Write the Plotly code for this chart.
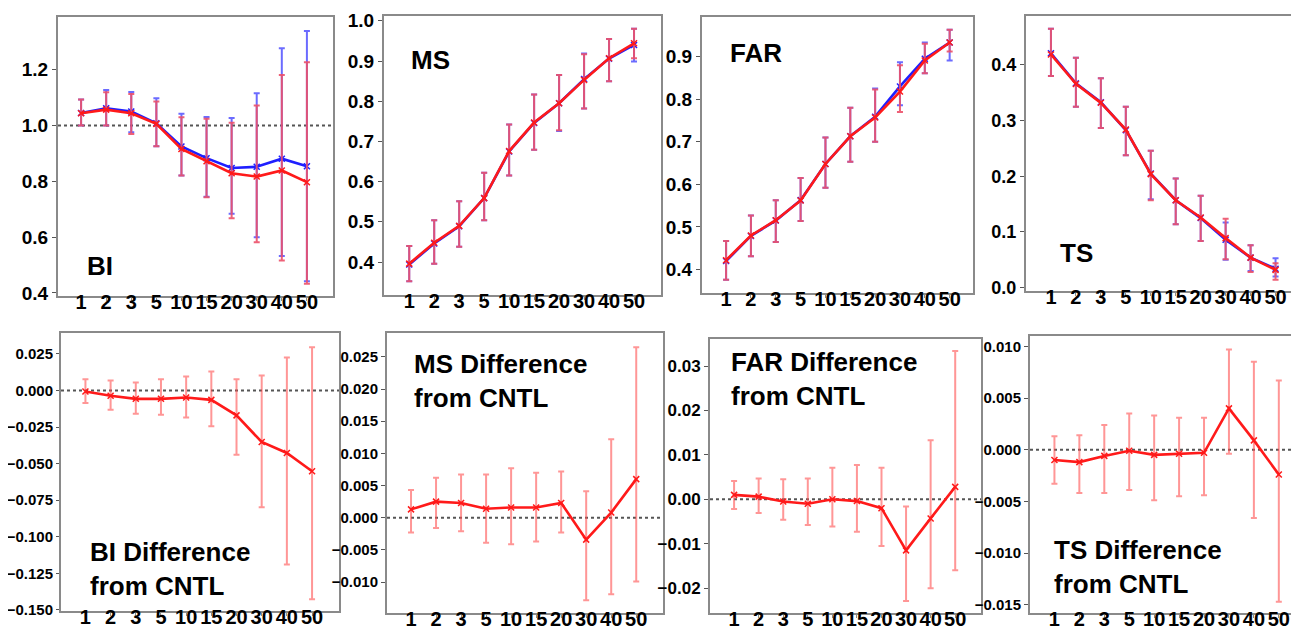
import plotly.graph_objects as go
import numpy as np

W, H = 1299, 632

categories = ["1", "2", "3", "5", "10", "15", "20", "30", "40", "50"]

# ---- BI ----
bi_blue = [1.045, 1.062, 1.050, 1.008, 0.925, 0.883, 0.848, 0.852, 0.881, 0.854]
bi_blue_hi = [1.093, 1.127, 1.120, 1.098, 1.042, 1.031, 1.027, 1.116, 1.277, 1.339]
bi_blue_lo = [1.000, 1.000, 0.976, 0.926, 0.821, 0.745, 0.684, 0.600, 0.532, 0.442]
bi_red = [1.044, 1.057, 1.044, 1.006, 0.916, 0.872, 0.829, 0.817, 0.839, 0.797]
bi_red_hi = [1.093, 1.119, 1.113, 1.086, 1.030, 1.024, 1.010, 1.072, 1.181, 1.227]
bi_red_lo = [1.000, 1.000, 0.970, 0.926, 0.821, 0.743, 0.668, 0.582, 0.516, 0.433]

# ---- MS ----
ms_blue = [0.394, 0.446, 0.489, 0.559, 0.675, 0.746, 0.795, 0.855, 0.906, 0.940]
ms_blue_hi = [0.440, 0.504, 0.551, 0.622, 0.742, 0.817, 0.865, 0.919, 0.955, 0.980]
ms_blue_lo = [0.352, 0.396, 0.438, 0.504, 0.615, 0.679, 0.726, 0.782, 0.850, 0.899]
ms_red = [0.396, 0.448, 0.490, 0.559, 0.676, 0.747, 0.795, 0.853, 0.907, 0.944]
ms_red_hi = [0.440, 0.504, 0.551, 0.622, 0.742, 0.817, 0.865, 0.917, 0.955, 0.980]
ms_red_lo = [0.352, 0.396, 0.438, 0.504, 0.615, 0.679, 0.728, 0.782, 0.850, 0.907]

# ---- FAR ----
far_blue = [0.420, 0.479, 0.515, 0.563, 0.648, 0.713, 0.759, 0.830, 0.895, 0.933]
far_blue_hi = [0.467, 0.527, 0.563, 0.615, 0.710, 0.780, 0.825, 0.887, 0.933, 0.963]
far_blue_lo = [0.376, 0.431, 0.465, 0.514, 0.592, 0.653, 0.700, 0.786, 0.861, 0.891]
far_red = [0.422, 0.480, 0.516, 0.562, 0.648, 0.713, 0.757, 0.818, 0.891, 0.933]
far_red_hi = [0.467, 0.527, 0.563, 0.615, 0.710, 0.780, 0.823, 0.880, 0.930, 0.963]
far_red_lo = [0.376, 0.431, 0.465, 0.514, 0.592, 0.653, 0.700, 0.770, 0.861, 0.912]

# ---- TS ----
ts_blue = [0.421, 0.367, 0.333, 0.283, 0.205, 0.157, 0.125, 0.086, 0.054, 0.034]
ts_blue_hi = [0.465, 0.413, 0.376, 0.325, 0.246, 0.196, 0.165, 0.117, 0.076, 0.053]
ts_blue_lo = [0.380, 0.325, 0.287, 0.238, 0.159, 0.114, 0.084, 0.050, 0.030, 0.020]
ts_red = [0.419, 0.366, 0.332, 0.284, 0.204, 0.157, 0.126, 0.089, 0.054, 0.032]
ts_red_hi = [0.465, 0.413, 0.376, 0.325, 0.246, 0.196, 0.165, 0.124, 0.076, 0.044]
ts_red_lo = [0.380, 0.325, 0.287, 0.238, 0.157, 0.114, 0.084, 0.051, 0.028, 0.014]

# ---- Differences from CNTL ----
bi_diff = [-0.0007, -0.0036, -0.0057, -0.0057, -0.0048, -0.0064, -0.0170, -0.0352, -0.0427, -0.0552]
bi_diff_hi = [0.0077, 0.0068, 0.0055, 0.0077, 0.0095, 0.0130, 0.0077, 0.0102, 0.0225, 0.0295]
bi_diff_lo = [-0.0086, -0.0132, -0.0159, -0.0166, -0.0184, -0.0245, -0.0439, -0.0798, -0.1190, -0.1427]

ms_diff = [0.0013, 0.0025, 0.0023, 0.0014, 0.0016, 0.0016, 0.0023, -0.0034, 0.0008, 0.0060]
ms_diff_hi = [0.0043, 0.0062, 0.0067, 0.0067, 0.0077, 0.0070, 0.0072, 0.0041, 0.0122, 0.0265]
ms_diff_lo = [-0.0023, -0.0016, -0.0021, -0.0039, -0.0041, -0.0037, -0.0023, -0.0128, -0.0119, -0.0099]

far_diff = [0.0010, 0.0006, -0.0005, -0.0010, 0.0000, -0.0004, -0.0020, -0.0115, -0.0043, 0.0028]
far_diff_hi = [0.0041, 0.0047, 0.0045, 0.0047, 0.0071, 0.0077, 0.0071, -0.0016, 0.0133, 0.0334]
far_diff_lo = [-0.0022, -0.0031, -0.0046, -0.0058, -0.0061, -0.0073, -0.0105, -0.0229, -0.0200, -0.0160]

ts_diff = [-0.0010, -0.0012, -0.0006, -0.0001, -0.0005, -0.0004, -0.0003, 0.0040, 0.0009, -0.0024]
ts_diff_hi = [0.0013, 0.0014, 0.0024, 0.0035, 0.0033, 0.0031, 0.0031, 0.0097, 0.0085, 0.0067]
ts_diff_lo = [-0.0033, -0.0042, -0.0042, -0.0039, -0.0049, -0.0045, -0.0044, -0.0004, -0.0066, -0.0147]

xi = list(range(len(categories)))

BLUE = "#1f1fff"
RED = "#ff1a1a"
BLUE_BAR = "rgba(70,70,255,0.8)"
RED_BAR = "rgba(236,80,105,0.9)"
DIFF_BAR = "rgba(255,80,80,0.6)"
FONT = "Liberation Sans"

# panel boxes in pixels: (x0, x1, y0, y1), plus axis ranges and ticks
panels = [
    dict(box=(50, 325, 9, 288), xr=(-0.92, 10.04), yr=(0.389, 1.389),
         ticks=[0.4, 0.6, 0.8, 1.0, 1.2], dec=1, tsize=19, tl=4, ref=1.0),
    dict(box=(376, 653, 8, 287), xr=(-1.01, 10.08), yr=(0.318, 1.012),
         ticks=[0.4, 0.5, 0.6, 0.7, 0.8, 0.9, 1.0], dec=1, tsize=19, tl=4, ref=None),
    dict(box=(694, 965, 9, 285), xr=(-0.97, 9.94), yr=(0.345, 0.993),
         ticks=[0.4, 0.5, 0.6, 0.7, 0.8, 0.9], dec=1, tsize=19, tl=4, ref=None),
    dict(box=(1018, 1290, 8, 283), xr=(-1.0, 9.9), yr=(-0.006, 0.488),
         ticks=[0.0, 0.1, 0.2, 0.3, 0.4], dec=1, tsize=18, tl=4, ref=None),
    dict(box=(53, 331, 325, 603), xr=(-0.97, 10.07), yr=(-0.1507, 0.0393),
         ticks=[-0.150, -0.125, -0.100, -0.075, -0.050, -0.025, 0.0, 0.025], dec=3, tsize=15, tl=3, ref=0.0),
    dict(box=(379, 655, 325, 605), xr=(-0.96, 10.07), yr=(-0.0148, 0.0287),
         ticks=[-0.010, -0.005, 0.0, 0.005, 0.010, 0.015, 0.020, 0.025], dec=3, tsize=15, tl=4, ref=0.0),
    dict(box=(702, 973, 331, 605), xr=(-0.98, 10.05), yr=(-0.0256, 0.0361),
         ticks=[-0.02, -0.01, 0.0, 0.01, 0.02, 0.03], dec=2, tsize=17, tl=4, ref=0.0),
    dict(box=(1022, 1295, 328, 605), xr=(-0.98, 9.97), yr=(-0.0158, 0.011),
         ticks=[-0.015, -0.010, -0.005, 0.0, 0.005, 0.010], dec=3, tsize=15, tl=4, ref=0.0),
]

fig = go.Figure()


def err(val, hi, lo, color):
    v = np.array(val)
    return dict(type="data", symmetric=False,
                array=(np.array(hi) - v).tolist(),
                arrayminus=(v - np.array(lo)).tolist(),
                color=color, thickness=2, width=3)


def add_series(i, val, hi, lo, line_color, bar_color):
    ax = "" if i == 1 else str(i)
    fig.add_trace(go.Scatter(
        x=xi, y=val, mode="lines+markers",
        line=dict(color=line_color, width=2.6),
        marker=dict(symbol="x-thin", size=6, line=dict(color=line_color, width=1.5)),
        error_y=err(val, hi, lo, bar_color),
        xaxis="x" + ax, yaxis="y" + ax, showlegend=False, hoverinfo="skip"))


top = [
    (bi_blue, bi_blue_hi, bi_blue_lo, bi_red, bi_red_hi, bi_red_lo),
    (ms_blue, ms_blue_hi, ms_blue_lo, ms_red, ms_red_hi, ms_red_lo),
    (far_blue, far_blue_hi, far_blue_lo, far_red, far_red_hi, far_red_lo),
    (ts_blue, ts_blue_hi, ts_blue_lo, ts_red, ts_red_hi, ts_red_lo),
]
for k, (bv, bh, bl, rv, rh, rl) in enumerate(top):
    add_series(k + 1, bv, bh, bl, BLUE, BLUE_BAR)
    add_series(k + 1, rv, rh, rl, RED, RED_BAR)

bottom = [
    (bi_diff, bi_diff_hi, bi_diff_lo),
    (ms_diff, ms_diff_hi, ms_diff_lo),
    (far_diff, far_diff_hi, far_diff_lo),
    (ts_diff, ts_diff_hi, ts_diff_lo),
]
for k, (v, h, l) in enumerate(bottom):
    add_series(k + 5, v, h, l, RED, DIFF_BAR)


def fmt_tick(v, dec):
    s = f"{abs(v):.{dec}f}"
    if v < 0:
        s = "\u2212" + s
    return "<b>" + s + "</b>"


layout = dict(width=W, height=H, margin=dict(l=0, r=0, t=0, b=0, autoexpand=False),
              paper_bgcolor="white", plot_bgcolor="white", showlegend=False)
shapes = []
for n, p in enumerate(panels, start=1):
    x0, x1, y0, y1 = p["box"]
    ax = "" if n == 1 else str(n)
    layout["xaxis" + ax] = dict(
        domain=[x0 / W, x1 / W], range=list(p["xr"]), anchor="y" + ax,
        automargin=False,
        tickmode="array", tickvals=xi, ticktext=["<b>" + c + "</b>" for c in categories],
        tickangle=0, ticklabelstandoff=-16,
        showgrid=False, zeroline=False, showline=True, mirror=True,
        linecolor="#8a8a8a", linewidth=2, ticks="outside", ticklen=3,
        tickcolor="#8a8a8a", tickwidth=1,
        tickfont=dict(family=FONT, size=20, color="black"))
    layout["yaxis" + ax] = dict(
        domain=[1 - y1 / H, 1 - y0 / H], range=list(p["yr"]), anchor="x" + ax,
        automargin=False,
        tickmode="array", tickvals=p["ticks"],
        ticktext=[fmt_tick(t, p["dec"]) for t in p["ticks"]],
        showgrid=False, zeroline=False, showline=True, mirror=True,
        linecolor="#8a8a8a", linewidth=2, ticks="outside", ticklen=p["tl"],
        tickcolor="#555", tickwidth=1,
        tickfont=dict(family=FONT, size=p["tsize"], color="black"))
    if p["ref"] is not None:
        shapes.append(dict(type="line", xref="x" + ax + " domain", x0=0, x1=1,
                           yref="y" + ax, y0=p["ref"], y1=p["ref"],
                           line=dict(color="#555555", width=2, dash="dot"), layer="below"))
layout["shapes"] = shapes

labels = [
    ("BI", 92, 258, "center"),
    ("MS", 422, 52, "center"),
    ("FAR", 748, 45, "center"),
    ("TS", 1068, 245, "center"),
    ("BI Difference<br>from CNTL", 80, 561, "left"),
    ("MS Difference<br>from CNTL", 404, 373, "left"),
    ("FAR Difference<br>from CNTL", 721, 371, "left"),
    ("TS Difference<br>from CNTL", 1044, 559, "left"),
]
layout["annotations"] = [
    dict(text="<b>" + t + "</b>", x=x / W, y=1 - y / H, xref="paper", yref="paper",
         xanchor=a, yanchor="middle", align="left", showarrow=False,
         font=dict(family=FONT, size=26, color="black"))
    for t, x, y, a in labels
]

fig.update_layout(**layout)
fig.write_html("out.html")
